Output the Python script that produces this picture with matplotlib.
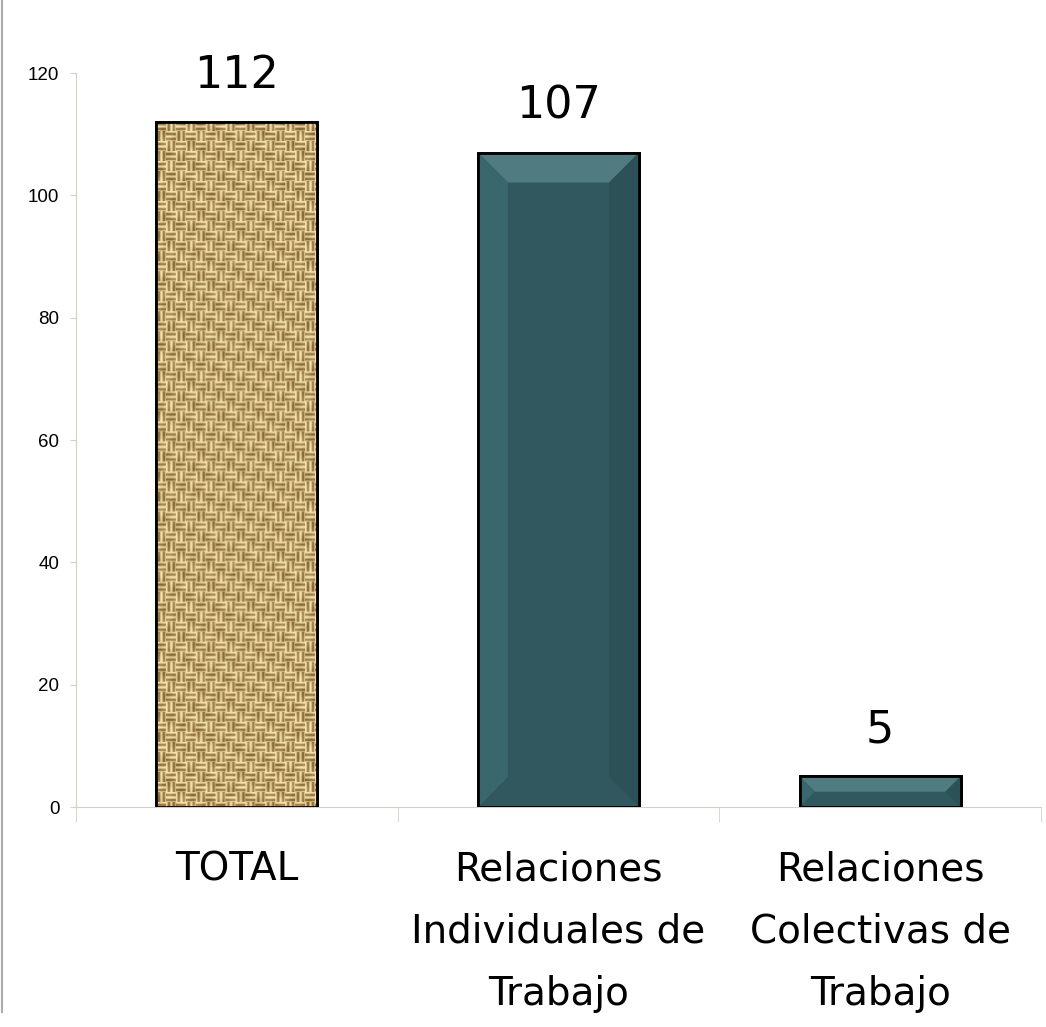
import numpy as np
import matplotlib
matplotlib.use('Agg')
from matplotlib import pyplot as plt
from matplotlib.patches import Polygon
from matplotlib.lines import Line2D

categories = ['TOTAL', 'Relaciones\nIndividuales de\nTrabajo', 'Relaciones\nColectivas de\nTrabajo']
values = [112, 107, 5]
yticks = [0, 20, 40, 60, 80, 100, 120]

plt.rcParams['font.family'] = ['DejaVu Sans']

fig = plt.figure(figsize=(10.46, 10.27), dpi=100)
ax = fig.add_axes([0.0727, 0.2142, 0.9225, 0.7147])

x = np.arange(len(values))
bars = ax.bar(x, values, width=0.5, color=['#C8A96A', '#30585E', '#30585E'],
              edgecolor='black', linewidth=2, zorder=3)

ax.set_xlim(-0.5, 2.5)
ax.set_ylim(0, 120)

# burlap-like weave texture for the TOTAL bar (deterministic pattern)
def weave(h, w):
    yy, xx = np.mgrid[0:h, 0:w].astype(float)
    th = 0.5 + 0.5 * np.cos(2 * np.pi * yy / 5.0)
    tv = 0.5 + 0.5 * np.cos(2 * np.pi * xx / 5.0)
    cell = ((xx // 10) + (yy // 10)) % 2
    t = np.where(cell == 0, th, tv)
    var = 0.5 + 0.25 * np.sin(xx * 0.37 + yy * 0.21) + 0.25 * np.sin(xx * 0.13 - yy * 0.29)
    k = np.clip(0.2 + 0.75 * t + 0.3 * (var - 0.5), 0, 1)[..., None]
    light = np.array([0.97, 0.89, 0.68])
    dark = np.array([0.47, 0.34, 0.14])
    return dark + (light - dark) * k

b0 = bars[0]
im = ax.imshow(weave(685, 162), extent=(b0.get_x(), b0.get_x() + b0.get_width(), 0, b0.get_height()),
               aspect='auto', interpolation='bilinear', zorder=3.5)
im.set_clip_path(b0)
ax.bar([x[0]], [values[0]], width=0.5, facecolor='none', edgecolor='black', linewidth=2, zorder=4)

# bevel effect for the teal bars
px_x = 0.5 / 162.0
px_y = 120 / 734.0
for b in bars[1:]:
    x0, w, h = b.get_x(), b.get_width(), b.get_height()
    x1 = x0 + w
    d = min(30, h / px_y / 2)
    dx, dy = d * px_x, d * px_y
    ax.add_patch(Polygon([(x0, h), (x1, h), (x1 - dx, h - dy), (x0 + dx, h - dy)],
                         closed=True, facecolor='#4F7B81', edgecolor='none', zorder=3.2))
    ax.add_patch(Polygon([(x0, 0), (x0, h), (x0 + dx, h - dy), (x0 + dx, dy)],
                         closed=True, facecolor='#3A676D', edgecolor='none', zorder=3.2))
    ax.add_patch(Polygon([(x1, 0), (x1, h), (x1 - dx, h - dy), (x1 - dx, dy)],
                         closed=True, facecolor='#2C5258', edgecolor='none', zorder=3.2))
    ax.bar([b.get_x() + w / 2], [h], width=w, facecolor='none', edgecolor='black', linewidth=2, zorder=4)

for xi, v in zip(x, values):
    ax.annotate(str(v), (xi, v), xytext=(0, 18), textcoords='offset points',
                ha='center', va='bottom', fontsize=32)

for s in ['top', 'right']:
    ax.spines[s].set_visible(False)
ax.spines['left'].set_color('#D4D0C4')
ax.spines['bottom'].set_color('#D4D0C4')

ax.set_yticks(yticks)
ax.set_yticklabels([str(t) for t in yticks], family='Liberation Sans', fontsize=13.5)
ax.tick_params(axis='y', length=4, color='#D4D0C4', pad=8)

ax.set_xticks(x)
ax.set_xticklabels(categories, fontsize=28)
ax.tick_params(axis='x', which='major', length=0, pad=31)
ax.set_xticks([-0.5, 0.5, 1.5, 2.5], minor=True)
ax.tick_params(axis='x', which='minor', length=11, color='#D4D0C4')
for t in ax.get_xticklabels():
    t.set_linespacing(1.82)

fig.add_artist(Line2D([0.0015, 0.0015], [0.015, 1.0], color='#AAAAAA', linewidth=1.5))

fig.savefig('out.png', dpi=100)
